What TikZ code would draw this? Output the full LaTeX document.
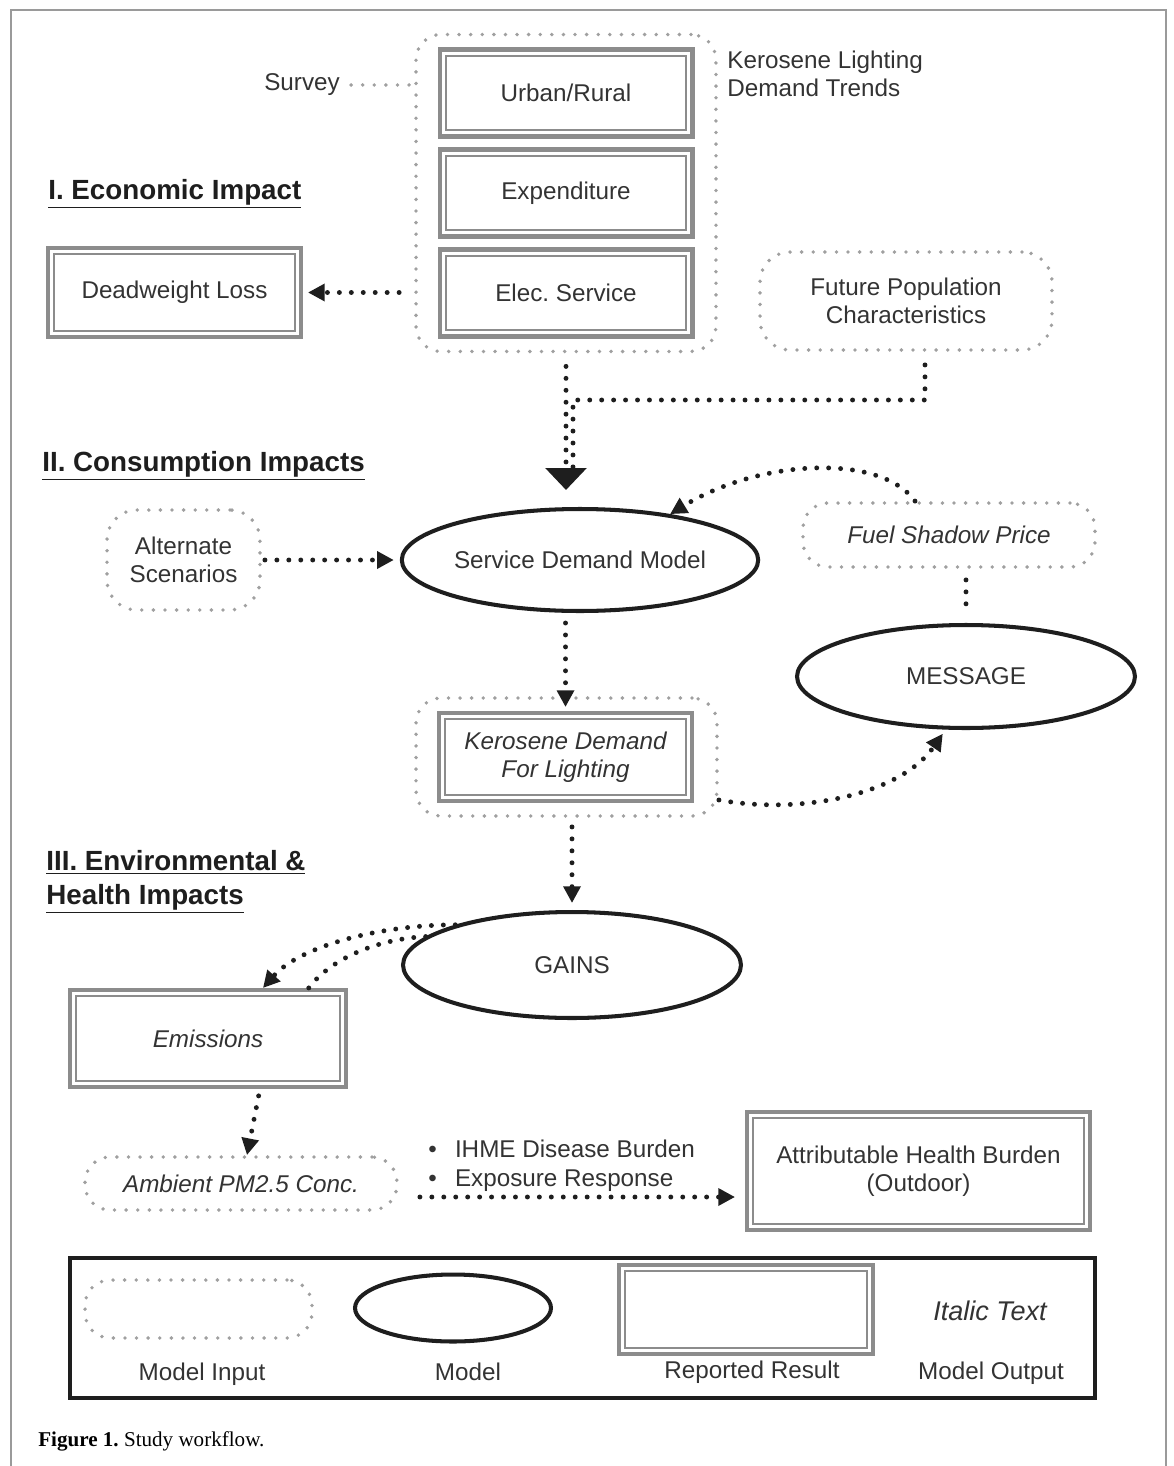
\documentclass[tikz,border=0pt]{standalone}
\usepackage{fontspec}
\setmainfont{Liberation Sans}
\newfontfamily\capfont{Liberation Serif}
\usetikzlibrary{shapes.geometric,arrows.meta}
\frenchspacing

\definecolor{dotgray}{HTML}{A0A0A0}
\definecolor{resgray}{HTML}{8C8C8C}
\definecolor{inkblack}{HTML}{1E1E1E}
\definecolor{txtc}{HTML}{333333}
\definecolor{framegray}{HTML}{9A9A9A}

\tikzstyle{input} = [draw=dotgray, line width=2.2pt, dash pattern=on 0pt off 6.6pt, line cap=round, rounded corners=0.5cm, align=center, inner sep=0pt]
\tikzstyle{model} = [ellipse, draw=inkblack, line width=2.3pt, inner sep=0pt, align=center]
\tikzstyle{result} = [rectangle, draw=resgray, line width=2.3pt, inner sep=0pt, align=center,
  path picture={\draw[resgray, line width=1pt] ([shift={(3.6pt,3.6pt)}]path picture bounding box.south west) rectangle ([shift={(-3.6pt,-3.6pt)}]path picture bounding box.north east);}]
\tikzstyle{conn} = [draw=inkblack, line width=2.8pt, dash pattern=on 0pt off 6.8pt, line cap=round]
\tikzstyle{gconn} = [draw=dotgray, line width=2.2pt, dash pattern=on 0pt off 6.6pt, line cap=round]
\tikzstyle{arrowhead} = [-{Triangle[length=9.5pt,width=9.5pt]}]
\tikzstyle{bigarrowhead} = [-{Triangle[length=12.5pt,width=23pt]}]
\tikzstyle{heading} = [font=\fontsize{15.8}{19.3}\selectfont\bfseries, text=inkblack, anchor=west, inner sep=0pt, align=left]
\tikzstyle{legtext} = [anchor=base, inner sep=0pt]

\begin{document}
\begin{tikzpicture}[x=0.02cm, y=-0.02cm, font=\fontsize{13.8}{16}\selectfont, text=txtc]
      \useasboundingbox (0,0) rectangle (1173,1466);
      \draw[framegray, line width=1pt] (11,1466) -- (11,10) -- (1166,10) -- (1166,1466);

      % I. economic impact
      \node[inner sep=0pt] (survey) at (302,85) {Survey};
      \node[input, minimum width=6cm, minimum height=6.34cm] (grp) at (566,193) {};
      \node[result, minimum width=5.06cm, minimum height=1.74cm] (urban) at (566,93) {Urban/Rural};
      \node[result, minimum width=5.06cm, minimum height=1.74cm] (expend) at (566,193) {Expenditure};
      \node[result, minimum width=5.06cm, minimum height=1.74cm] (elec) at (566,293) {Elec. Service};
      \node[anchor=west, align=left, inner sep=0pt] (kltrend) at (727,74) {Kerosene Lighting\\Demand Trends};
      \node[heading] (h1) at (48,194) {\underline{I. Economic Impact}};
      \node[result, minimum width=5.06cm, minimum height=1.78cm] (dwl) at (174.5,292.5) {Deadweight Loss};
      \node[input, minimum width=5.84cm, minimum height=1.96cm, rounded corners=0.6cm] (fpc) at (906,301) {Future Population\\Characteristics};

      % II. consumption impacts
      \node[heading] (h2) at (42,466) {\underline{II. Consumption Impacts}};
      \node[input, minimum width=3.06cm, minimum height=2cm, rounded corners=0.6cm] (alt) at (183.5,560) {Alternate\\Scenarios};
      \node[model, minimum width=6.8cm, minimum height=2.04cm] (sdm) at (580,560) {Service Demand Model};
      \node[input, minimum width=5.84cm, minimum height=1.28cm, font=\fontsize{13.8}{16}\selectfont\itshape] (fsp) at (949,535) {Fuel Shadow Price};
      \node[model, minimum width=6.76cm, minimum height=2.06cm] (msg) at (966,676.5) {MESSAGE};
      \node[input, minimum width=6.02cm, minimum height=2.36cm] (kdgrp) at (566.5,757) {};
      \node[result, minimum width=5.06cm, minimum height=1.76cm, font=\fontsize{13.8}{16}\selectfont\itshape] (kd) at (565.5,757) {Kerosene Demand\\For Lighting};

      % III. environmental & health impacts
      \node[heading] (h3) at (46,882) {\underline{III. Environmental \&}\\\underline{Health Impacts}};
      \node[model, minimum width=6.76cm, minimum height=2.12cm] (gains) at (572,965) {GAINS};
      \node[result, minimum width=5.52cm, minimum height=1.94cm, font=\fontsize{13.8}{16}\selectfont\itshape] (emis) at (208,1038.5) {Emissions};
      \node[input, minimum width=6.24cm, minimum height=1.06cm, font=\fontsize{13.8}{16}\selectfont\itshape] (amb) at (241,1183.5) {Ambient PM2.5 Conc.};
      \node[anchor=west, align=left, inner sep=0pt, font=\fontsize{13.8}{16.4}\selectfont] (bullets) at (428,1166) {•\hspace{0.75em}IHME Disease Burden\\•\hspace{0.75em}Exposure Response};
      \node[result, minimum width=6.86cm, minimum height=2.36cm] (ahb) at (918.5,1171) {Attributable Health Burden\\(Outdoor)};

      % legend
      \node[draw=inkblack, line width=2.3pt, minimum width=20.5cm, minimum height=2.8cm] (legend) at (582.5,1328) {};
      \node[input, minimum width=4.54cm, minimum height=1.16cm] (legin) at (198.5,1309) {};
      \node[model, minimum width=3.92cm, minimum height=1.34cm] (legmod) at (453,1308) {};
      \node[result, minimum width=5.08cm, minimum height=1.78cm] (legres) at (746,1309.5) {};
      \node[font=\fontsize{15.4}{18}\selectfont\itshape, inner sep=0pt] (legit) at (990,1311) {Italic Text};
      \node[legtext] (leginlab) at (202,1380) {Model Input};
      \node[legtext] (legmodlab) at (468,1380) {Model};
      \node[legtext] (legreslab) at (752,1378) {Reported Result};
      \node[legtext] (legitlab) at (991,1379) {Model Output};

      \node[anchor=west, inner sep=0pt, text=black, font=\capfont\fontsize{12}{14}\selectfont] (caption) at (38,1441) {\textbf{Figure 1.} Study workflow.};

      % connectors
      \coordinate (fpcjoin) at (573,400);
      \draw[gconn, shorten <=0.22cm, shorten >=0.06cm] (survey.east) -- (survey.east -| grp.west);
      \draw[conn, arrowhead, shorten <=0.3cm, shorten >=0.1cm] (grp.west |- dwl.east) -- (dwl.east);
      \draw[conn, bigarrowhead, shorten <=0.26cm, shorten >=0.34cm] (grp.south) -- (grp.south |- sdm.north);
      \draw[conn, shorten <=0.26cm, shorten >=0.8cm] ([xshift=0.38cm]fpc.south) |- (fpcjoin) -- (fpcjoin |- sdm.north);
      \draw[conn, arrowhead, shorten <=0.06cm, shorten >=0.12cm] (alt.east) -- (sdm.west);
      \draw[conn, arrowhead] ([xshift=-0.68cm]fsp.north) .. controls +(-35,-48) and +(90,-55) .. (sdm.27);
      \draw[conn, shorten <=0.22cm, shorten >=0.2cm] (msg.north |- fsp.south) -- (msg.north);
      \draw[conn, arrowhead, shorten <=0.2cm, shorten >=0.08cm] (kd.north |- sdm.south) -- (kd.north);
      \draw[conn, arrowhead, shorten <=0.18cm, shorten >=0.14cm] (gains.north |- kdgrp.south) -- (gains.north);
      \draw[conn, arrowhead, shorten >=0.1cm] ([yshift=-0.86cm]kdgrp.east) .. controls +(82,15) and +(-45,65) .. (msg.249);
      \draw[conn, arrowhead] (gains.161) .. controls +(-75,0) and +(37,-42) .. ([xshift=1.1cm]emis.north);
      \draw[conn] (gains.169) .. controls +(-57,3) and +(17,-32) .. ([shift={(1.9cm,-0.18cm)}]emis.north);
      \draw[conn, arrowhead, shorten <=0.14cm] ([xshift=1.04cm]emis.south) -- ([xshift=0.12cm]amb.north);
      \draw[conn, arrowhead, shorten <=0.42cm, shorten >=0.2cm] ([yshift=-0.27cm]amb.east) -- ([yshift=-0.27cm]amb.east -| ahb.west);
\end{tikzpicture}
\end{document}
